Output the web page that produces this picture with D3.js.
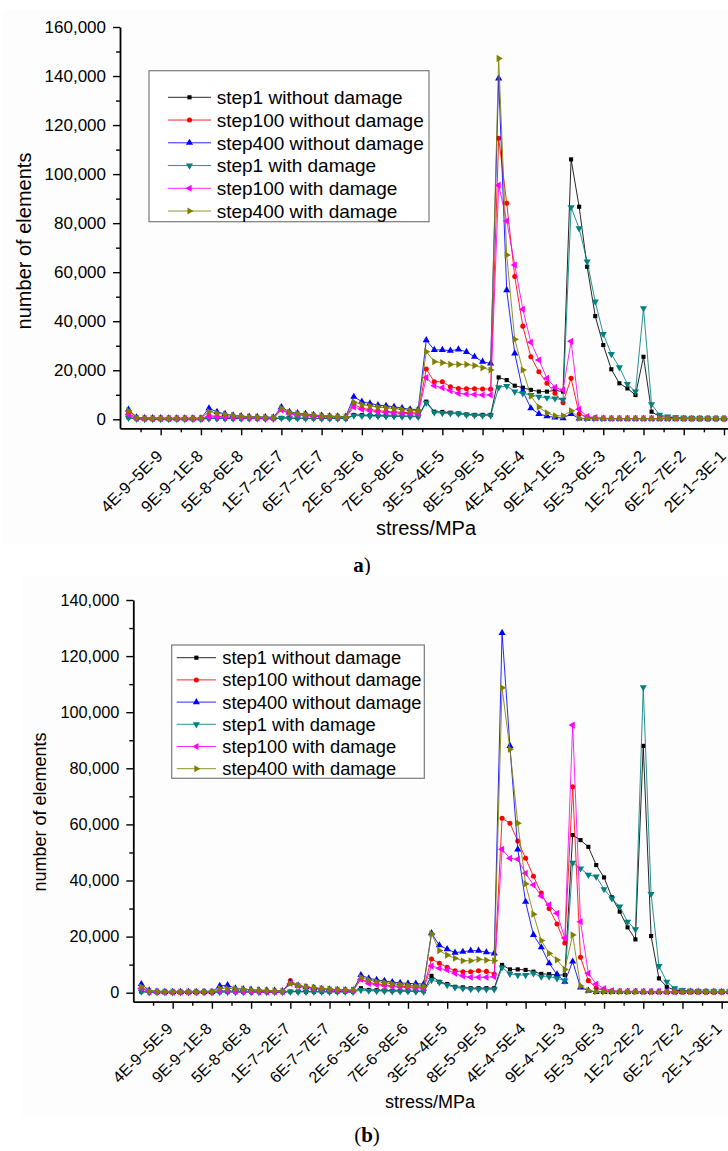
<!DOCTYPE html>
<html>
<head>
<meta charset="utf-8">
<script src="https://cdn.jsdelivr.net/npm/d3@7"></script>
<style>
  body { margin: 0; background: #fff; }
  svg { display: block; }
</style>
</head>
<body>
<svg id="fig" width="728" height="1151"></svg>
<script>
// Stress bins (MPa), one per data point
const categories = [
  "0~1E-9",
  "1E-9~2E-9","2E-9~3E-9","3E-9~4E-9","4E-9~5E-9","5E-9~6E-9","6E-9~7E-9","7E-9~8E-9","8E-9~9E-9","9E-9~1E-8",
  "1E-8~2E-8","2E-8~3E-8","3E-8~4E-8","4E-8~5E-8","5E-8~6E-8","6E-8~7E-8","7E-8~8E-8","8E-8~9E-8","9E-8~1E-7",
  "1E-7~2E-7","2E-7~3E-7","3E-7~4E-7","4E-7~5E-7","5E-7~6E-7","6E-7~7E-7","7E-7~8E-7","8E-7~9E-7","9E-7~1E-6",
  "1E-6~2E-6","2E-6~3E-6","3E-6~4E-6","4E-6~5E-6","5E-6~6E-6","6E-6~7E-6","7E-6~8E-6","8E-6~9E-6","9E-6~1E-5",
  "1E-5~2E-5","2E-5~3E-5","3E-5~4E-5","4E-5~5E-5","5E-5~6E-5","6E-5~7E-5","7E-5~8E-5","8E-5~9E-5","9E-5~1E-4",
  "1E-4~2E-4","2E-4~3E-4","3E-4~4E-4","4E-4~5E-4","5E-4~6E-4","6E-4~7E-4","7E-4~8E-4","8E-4~9E-4","9E-4~1E-3",
  "1E-3~2E-3","2E-3~3E-3","3E-3~4E-3","4E-3~5E-3","5E-3~6E-3","6E-3~7E-3","7E-3~8E-3","8E-3~9E-3","9E-3~1E-2",
  "1E-2~2E-2","2E-2~3E-2","3E-2~4E-2","4E-2~5E-2","5E-2~6E-2","6E-2~7E-2","7E-2~8E-2","8E-2~9E-2","9E-2~1E-1",
  "1E-1~2E-1","2E-1~3E-1","3E-1~4E-1","4E-1~5E-1"
];

// Labelled bins on the x axis
const tickLabels = [
  "4E-9~5E-9","9E-9~1E-8","5E-8~6E-8","1E-7~2E-7","6E-7~7E-7","2E-6~3E-6","7E-6~8E-6",
  "3E-5~4E-5","8E-5~9E-5","4E-4~5E-4","9E-4~1E-3","5E-3~6E-3","1E-2~2E-2","6E-2~7E-2","2E-1~3E-1"
];

const seriesNames = [
  "step1 without damage","step100 without damage","step400 without damage",
  "step1 with damage","step100 with damage","step400 with damage"
];
const seriesColors = ["#000000","#ff0000","#0000ff","#008080","#ff00ff","#808000"];
const seriesMarkers = ["square","circle","up","down","left","right"];

// Panel (a): number of elements per stress bin
const aStep1NoDamage = [800, 200,150,100,100,100,100,100,100,100, 400, 400,350,300,300,300,300,250,250, 600, 500,450,400,400,350,350,300,300, 1800, 1700,1600,1500,1400,1400,1300,1300,1200, 7200, 3100,3000,2700,2400,2000,1800,1800,1800, 17100, 16000,13700,12900,12000,11300,11300,11800,11300, 106000, 86700,62200,42100,30300,20400,14700,12600,9900, 25500, 3100,1100,800,600,500,500,400,400, 300,300,300,300];
const aStep100NoDamage = [2500, 500,400,300,300,300,300,300,300,300, 1500, 1200,1000,900,800,700,600,600,500, 4000, 2500,2000,1600,1300,1100,1000,900,800, 6000, 4500,4000,3500,3200,3000,2800,2700,2600, 20500, 15300,15300,13300,12600,12500,12500,12400,12300, 114600, 88100,58200,38000,25500,19400,14700,10600,6800, 16700, 2200,900,500,400,300,300,300,300, 300, 300,300,300,300,300,300,300,300, 300,300,300,300];
const aStep400NoDamage = [4000, 800,500,500,500,400,400,400,400,400, 4500, 3000,2200,1600,1300,1100,1000,900,800, 5000, 3000,2500,2200,1800,1500,1300,1200,1100, 9200, 7200,6500,5800,5500,5100,4600,4100,4000, 32300, 28300,28300,28000,28500,27500,25500,23500,22800, 139000, 52700,26900,11500,4500,2200,1300,800,500, 2200, 300,200,200,200,200,200,200,200, 200, 200,200,200,200,200,200,200,200, 200,200,200,200];
const aStep1Damage = [600, 150,100,100,100,100,100,100,100,100, 300, 300,300,250,250,250,250,200,200, 500, 400,400,350,350,300,300,300,250, 1500, 1400,1300,1300,1200,1200,1100,1100,1000, 6700, 2800,2500,2400,2200,1800,1600,1500,1500, 13000, 13600,11300,10600,9900,9200,8800,8500,7900, 86500, 77900,64300,48000,34800,26600,21200,14400,11300, 45300, 6100,1800,1100,800,600,500,500,400, 400,300,300,300];
const aStep100Damage = [2000, 400,300,300,300,300,300,300,300,300, 1000, 900,800,700,600,600,500,500,500, 3800, 2200,1800,1500,1200,1000,900,800,700, 5000, 4000,3500,3000,2800,2600,2400,2300,2200, 17000, 13700,12900,11700,10600,10300,10100,9900,9900, 95500, 80900,62900,44900,31400,24200,16700,13000,12000, 31800, 4100,1100,700,400,300,300,300,300, 300, 300,300,300,300,300,300,300,300, 300,300,300,300];
const aStep400Damage = [3500, 700,500,400,400,400,400,400,400,400, 3200, 2500,2000,1500,1200,1000,900,800,700, 4500, 2800,2300,2000,1700,1400,1200,1100,1000, 7000, 6000,5500,5000,4700,4400,4000,3700,3500, 27600, 23500,23100,22400,22400,22400,21900,21000,20100, 147200, 67000,32600,20100,9500,5000,2600,1400,1400, 3500, 400,300,300,300,300,300,300,300, 300, 300,300,300,300,300,300,300,300, 300,300,300,300];

// Panel (b): number of elements per stress bin
const bStep1NoDamage = [400, 200,100,100,100,100,100,100,100,100, 300, 300,300,250,250,250,200,200,200, 400, 400,350,350,300,300,300,300,250, 1600, 1000,900,800,700,700,600,600,500, 6000, 3900,3100,2100,1900,1600,1600,1600,1600, 9900, 8300,8300,8100,7500,6700,6600,6300,6300, 56200, 54400,52000,45500,41100,34000,28900,23300,19000, 88000, 20200,5100,2100,900,700,600,500,500, 400,400,300,300];
const bStep100NoDamage = [1600, 400,300,200,200,200,200,200,200,200, 600, 600,500,500,400,400,400,300,300, 4300, 2600,2000,1600,1300,1100,1000,900,800, 4900, 3600,3200,2800,2500,2300,2100,2000,1800, 12000, 10500,9100,7800,7500,7500,7800,7600,6700, 62200, 60400,54100,47900,41500,35500,30000,24500,17700, 73400, 12600,4300,1600,800,500,400,300,300, 300, 300,300,300,300,300,300,300,300, 300,300,300,300];
const bStep400NoDamage = [3100, 800,400,300,300,300,300,300,300,300, 2400, 2700,1500,1300,1100,900,800,700,600, 3600, 2500,2000,1700,1400,1200,1000,900,800, 6300, 5100,4600,4200,3800,3500,3300,3200,3100, 21200, 16900,15500,14300,14600,15000,15000,14400,14000, 128300, 88000,51100,32400,20600,16200,10500,6500,3900, 11100, 1900,700,300,300,300,300,300,300, 300, 300,300,300,300,300,300,300,300, 300,300,300,300];
const bStep1Damage = [400, 100,100,100,100,100,100,100,100,100, 200, 200,200,200,200,200,200,200,200, 300, 300,300,300,300,300,300,300,300, 900, 700,600,600,500,500,500,400,400, 4500, 3700,2700,1900,1500,1300,1300,1200,1200, 9000, 6700,6300,6300,6900,5700,5700,5100,4300, 46300, 44300,42000,41400,36900,33600,30700,25300,22600, 108900, 35200,9500,3900,1600,900,700,600,500, 500,400,400,300];
const bStep100Damage = [1600, 400,300,200,200,200,200,200,200,200, 500, 500,400,400,400,300,300,300,300, 3300, 2400,1900,1500,1200,1000,900,800,700, 4800, 3300,2900,2500,2200,2000,1800,1700,1500, 9500, 8700,8100,6900,6000,5500,5500,5500,5700, 51100, 47900,47600,42600,38400,34500,31300,28300,19500, 95400, 25300,6900,3100,1500,800,500,500,500, 400, 400,400,300,300,300,300,300,300, 300,300,300,300];
const bStep400Damage = [2100, 600,400,300,300,300,300,300,300,300, 1600, 1500,1400,1200,1000,900,800,700,600, 3300, 2600,2100,1800,1500,1300,1100,1000,900, 5500, 4500,4000,3600,3200,2900,2600,2400,2200, 21000, 15000,13400,12300,11400,11400,11900,11600,11400, 108700, 86800,60400,38800,28000,18600,14000,11700,8300, 20600, 2400,800,400,300,300,300,300,300, 300, 300,300,300,300,300,300,300,300, 300,300,300,300];

const yTicksA = [0, 20000, 40000, 60000, 80000, 100000, 120000, 140000, 160000];
const yTicksB = [0, 20000, 40000, 60000, 80000, 100000, 120000, 140000];

const FONT = "'Liberation Sans', Arial, Helvetica, sans-serif";
const svg = d3.select("#fig");

const panels = [
  {
    series: [aStep1NoDamage, aStep100NoDamage, aStep400NoDamage, aStep1Damage, aStep100Damage, aStep400Damage],
    yTicks: yTicksA,
    haze: [3, 10, 725, 535],
    xDomain: [-1.056, 76], xRange: [120, 120 + 77.056 * 8.047],
    yDomain: [-3670, 160000], yRange: [428.3, 27],
    tickFont: 17, xLabelFont: 16.5, xLabelOffset: [3, 29],
    titleFont: 20, yTitlePos: [24, 241], xTitlePos: [426, 535],
    legend: { box: [149, 70.7, 280, 151], row0: 97.3, rowStep: 22.75, lx: [168, 211], tx: 216.7, font: 19 },
    label: { parts: [["a", "bold"], [")", "normal"]], pos: [362, 572] }
  },
  {
    series: [bStep1NoDamage, bStep100NoDamage, bStep400NoDamage, bStep1Damage, bStep100Damage, bStep400Damage],
    yTicks: yTicksB,
    haze: [22, 575, 706, 542],
    xDomain: [-1.02, 76], xRange: [133.3, 133.3 + 77.02 * 7.843],
    yDomain: [-3210, 140000], yRange: [1001.7, 600],
    tickFont: 16.3, xLabelFont: 16, xLabelOffset: [1, 28],
    titleFont: 18, yTitlePos: [40, 812], xTitlePos: [430, 1108],
    legend: { box: [171.7, 645, 252.6, 133.3], row0: 657.7, rowStep: 22.2, lx: [176.7, 216], tx: 222.3, font: 18.3 },
    label: { parts: [["(", "normal"], ["b", "bold"], [")", "normal"]], pos: [367, 1142] }
  }
];

function markerPath(kind) {
  if (kind === "square") return d3.symbol().type(d3.symbolSquare).size(17)();
  if (kind === "circle") return d3.symbol().type(d3.symbolCircle).size(20)();
  return d3.symbol().type(d3.symbolTriangle).size(22)();
}
function markerRotation(kind) {
  return { up: 0, down: 180, left: -90, right: 90 }[kind] || 0;
}

panels.forEach(p => {
  const g = svg.append("g");

  // very faint paper tone behind each chart
  g.append("rect")
    .attr("x", p.haze[0]).attr("y", p.haze[1])
    .attr("width", p.haze[2]).attr("height", p.haze[3])
    .attr("fill", "#fcfdfc");

  const x = d3.scaleLinear().domain(p.xDomain).range(p.xRange);
  const y = d3.scaleLinear().domain(p.yDomain).range(p.yRange);
  const x0 = p.xRange[0], y0 = p.yRange[0];

  // y axis: labelled major ticks plus unlabelled minor ticks
  const yMinor = p.yTicks.slice(0, -1).map(v => v + 10000);
  g.append("g").attr("transform", `translate(${x0},0)`)
    .call(d3.axisLeft(y).tickValues(yMinor).tickSize(4).tickFormat("").tickSizeOuter(0))
    .call(a => a.select(".domain").remove())
    .call(a => a.selectAll("line").attr("stroke-width", 1.4));
  g.append("g").attr("transform", `translate(${x0},0)`)
    .call(d3.axisLeft(y).tickValues(p.yTicks).tickSize(7).tickPadding(7)
      .tickFormat(d3.format(",")).tickSizeOuter(0))
    .call(a => a.select(".domain").attr("stroke-width", 1.8))
    .call(a => a.selectAll("line").attr("stroke-width", 1.4))
    .call(a => a.selectAll("text").attr("font-size", p.tickFont).attr("font-family", FONT).attr("fill", "#000"));

  // x axis: major ticks every 5 bins at the labelled bins, minor ticks half way
  const majorIdx = tickLabels.map(l => categories.indexOf(l));
  const minorIdx = majorIdx.map(i => i - 2.5).concat([majorIdx[majorIdx.length - 1] + 2.5]);
  g.append("g").attr("transform", `translate(0,${y0})`)
    .call(d3.axisBottom(x).tickValues(minorIdx).tickSize(4).tickFormat("").tickSizeOuter(0))
    .call(a => a.select(".domain").remove())
    .call(a => a.selectAll("line").attr("stroke-width", 1.4));
  g.append("g").attr("transform", `translate(0,${y0})`)
    .call(d3.axisBottom(x).tickValues(majorIdx).tickSize(7).tickFormat("").tickSizeOuter(0))
    .call(a => a.select(".domain").attr("stroke-width", 1.8))
    .call(a => a.selectAll("line").attr("stroke-width", 1.4));

  // rotated bin labels
  g.append("g").selectAll("text").data(tickLabels).join("text")
    .attr("transform", d => `translate(${x(categories.indexOf(d)) + p.xLabelOffset[0]},${y0 + p.xLabelOffset[1]}) rotate(-45)`)
    .attr("text-anchor", "end")
    .attr("font-family", FONT).attr("font-size", p.xLabelFont)
    .text(d => d);

  // axis titles
  g.append("text")
    .attr("transform", `translate(${p.yTitlePos[0]},${p.yTitlePos[1]}) rotate(-90)`)
    .attr("text-anchor", "middle").attr("dominant-baseline", "central")
    .attr("font-family", FONT).attr("font-size", p.titleFont)
    .text("number of elements");
  g.append("text")
    .attr("x", p.xTitlePos[0]).attr("y", p.xTitlePos[1])
    .attr("text-anchor", "middle")
    .attr("font-family", FONT).attr("font-size", p.titleFont)
    .text("stress/MPa");

  // series lines and markers
  const line = d3.line().x((d, i) => x(i)).y(d => y(d));
  p.series.forEach((vals, s) => {
    const sg = g.append("g");
    sg.append("path").datum(vals)
      .attr("d", line)
      .attr("fill", "none")
      .attr("stroke", seriesColors[s])
      .attr("stroke-width", 1)
      .attr("stroke-opacity", 0.85);
    sg.selectAll("path.m").data(vals).join("path")
      .attr("class", "m")
      .attr("d", markerPath(seriesMarkers[s]))
      .attr("transform", (d, i) => `translate(${x(i)},${y(d)}) rotate(${markerRotation(seriesMarkers[s])})`)
      .attr("fill", seriesColors[s]);
  });

  // legend
  const L = p.legend;
  const lg = g.append("g");
  lg.append("rect")
    .attr("x", L.box[0]).attr("y", L.box[1])
    .attr("width", L.box[2]).attr("height", L.box[3])
    .attr("fill", "#fff").attr("stroke", "#7a7a7a").attr("stroke-width", 1.2);
  seriesNames.forEach((name, s) => {
    const ry = L.row0 + s * L.rowStep;
    lg.append("line")
      .attr("x1", L.lx[0]).attr("x2", L.lx[1]).attr("y1", ry).attr("y2", ry)
      .attr("stroke", seriesColors[s]).attr("stroke-width", 1).attr("stroke-opacity", 0.85);
    lg.append("path")
      .attr("d", markerPath(seriesMarkers[s]))
      .attr("transform", `translate(${(L.lx[0] + L.lx[1]) / 2},${ry}) rotate(${markerRotation(seriesMarkers[s])})`)
      .attr("fill", seriesColors[s]);
    lg.append("text")
      .attr("x", L.tx).attr("y", ry).attr("dy", "0.36em")
      .attr("font-family", FONT).attr("font-size", L.font)
      .text(name);
  });

  // panel caption
  const cap = g.append("text")
    .attr("x", p.label.pos[0]).attr("y", p.label.pos[1])
    .attr("text-anchor", "middle")
    .attr("font-family", "'Liberation Serif', 'Times New Roman', serif")
    .attr("font-size", 21);
  p.label.parts.forEach(([t, w]) => cap.append("tspan").attr("font-weight", w).text(t));
});
</script>
</body>
</html>
